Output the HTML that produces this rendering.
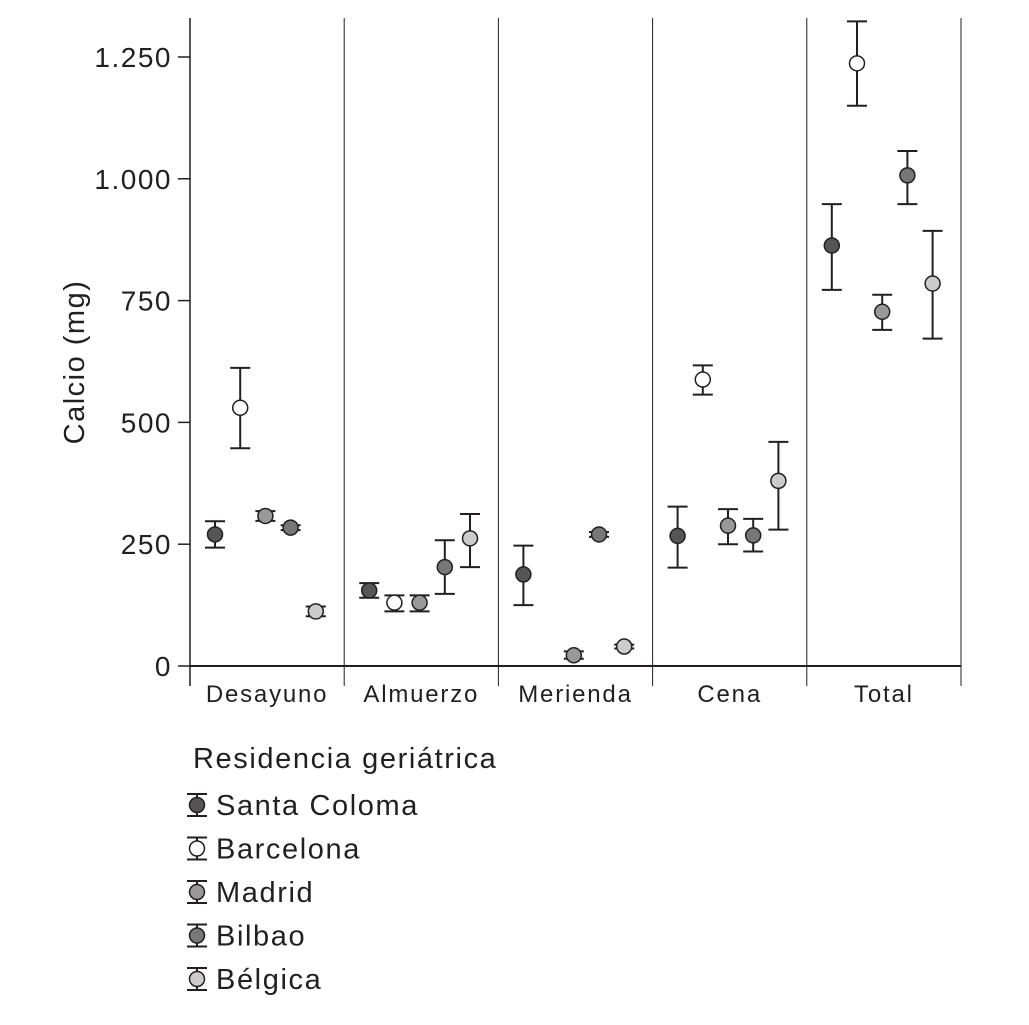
<!DOCTYPE html>
<html><head><meta charset="utf-8"><style>
body{margin:0;background:#fff;width:1029px;height:1020px;overflow:hidden}
text{font-family:"Liberation Sans",sans-serif;fill:#231f20}
</style></head><body>
<svg id="chart" width="1029" height="1020" xmlns="http://www.w3.org/2000/svg"></svg>
<script>
const categories=["Desayuno","Almuerzo","Merienda","Cena","Total"];
const seriesNames=["Santa Coloma","Barcelona","Madrid","Bilbao","Bélgica"];
const santaColoma=[270,155,188,267,863];
const santaColomaLo=[243,140,125,202,772];
const santaColomaHi=[297,170,247,327,948];
const barcelona=[530,130,null,588,1237];
const barcelonaLo=[447,112,null,557,1150];
const barcelonaHi=[612,145,null,617,1323];
const madrid=[308,130,22,288,727];
const madridLo=[298,112,15,250,690];
const madridHi=[318,145,30,322,762];
const bilbao=[284,203,270,268,1007];
const bilbaoLo=[279,148,265,235,948];
const bilbaoHi=[289,258,275,302,1057];
const belgica=[112,262,40,380,785];
const belgicaLo=[102,203,36,280,672];
const belgicaHi=[122,312,44,460,893];
const yTicks=[0,250,500,750,1000,1250];
const yTickLabels=["0","250","500","750","1.000","1.250"];
const colors=["#555","#fff","#999","#777","#ccc"];
const NS="http://www.w3.org/2000/svg";
const svg=document.getElementById('chart');
function el(t,a,p){const e=document.createElementNS(NS,t);for(const k in a)e.setAttribute(k,a[k]);(p||svg).appendChild(e);return e;}
const x0=190,panelW=154.2,y0=666,yTop=18;
function y(v){return y0-v*0.4872;}
function x(ci,si){return x0+ci*panelW+25+si*25.2;}
const vals=[santaColoma,barcelona,madrid,bilbao,belgica];
const los=[santaColomaLo,barcelonaLo,madridLo,bilbaoLo,belgicaLo];
const his=[santaColomaHi,barcelonaHi,madridHi,bilbaoHi,belgicaHi];
for(let i=0;i<=5;i++){const l=el('line',{x1:x0+i*panelW,x2:x0+i*panelW,y1:yTop,y2:686,stroke:'#231f20','stroke-width':i==0?1.5:1});
}
const ax=el('line',{x1:x0,x2:x0+5*panelW,y1:y0,y2:y0,stroke:'#231f20','stroke-width':2});

yTicks.forEach((t,i)=>{const tk=el('line',{x1:178,x2:x0,y1:y(t),y2:y(t),stroke:'#231f20','stroke-width':1.5});

const tx=el('text',{x:172,y:y(t)+10,'text-anchor':'end','font-size':28,'letter-spacing':1.5});tx.textContent=yTickLabels[i];
});
categories.forEach((c,i)=>{const tx=el('text',{x:x0+i*panelW+panelW/2,y:702,'text-anchor':'middle','font-size':24,'letter-spacing':1.8});tx.textContent=c;
});
const yt=el('text',{x:0,y:0,'text-anchor':'middle','font-size':29,'letter-spacing':1.5,transform:'translate(84,362) rotate(-90)'});yt.textContent='Calcio (mg)';

function marker(cx,cy,lo,hi,col,g){
el('line',{x1:cx,x2:cx,y1:lo,y2:hi,stroke:'#231f20','stroke-width':2},g);
el('line',{x1:cx-10,x2:cx+10,y1:lo,y2:lo,stroke:'#231f20','stroke-width':2},g);
el('line',{x1:cx-10,x2:cx+10,y1:hi,y2:hi,stroke:'#231f20','stroke-width':2},g);
el('circle',{cx:cx,cy:cy,r:7.5,fill:col,stroke:'#231f20','stroke-width':1.5},g);}
vals.forEach((s,si)=>{s.forEach((v,ci)=>{if(v==null)return;
const g=el('g',{});

marker(x(ci,si),y(v),y(los[si][ci]),y(his[si][ci]),colors[si],g);});});
const lt=el('text',{x:193,y:768,'font-size':29,'letter-spacing':1.6});lt.textContent='Residencia geriátrica';

seriesNames.forEach((n,i)=>{const cy=805+i*43.5;const g=el('g',{});

marker(197,cy,cy+11,cy-11,colors[i],g);
const t=el('text',{x:216,y:cy+10,'font-size':29,'letter-spacing':1.6},g);t.textContent=n;});
</script>
</body></html>
